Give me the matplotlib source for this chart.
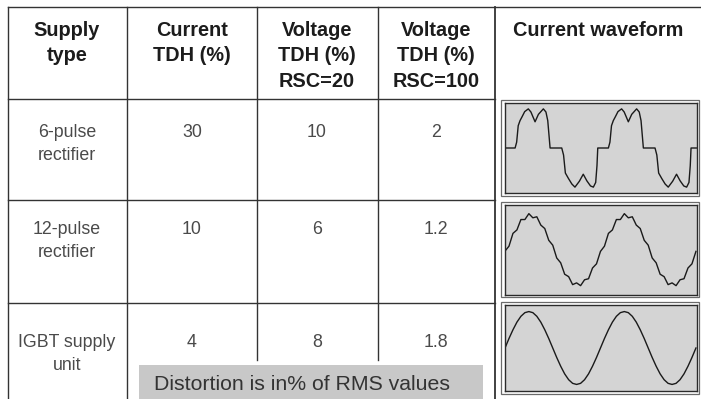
import numpy as np
import matplotlib
matplotlib.use("Agg")
import matplotlib.pyplot as plt
from matplotlib.patches import Rectangle

# ── Table content ─────────────────────────────────────────────────────────────
headers = ["Supply\ntype", "Current\nTDH (%)", "Voltage\nTDH (%)\nRSC=20",
           "Voltage\nTDH (%)\nRSC=100", "Current waveform"]
supply_types = ["6-pulse\nrectifier", "12-pulse\nrectifier", "IGBT supply\nunit"]
current_tdh = ["30", "10", "4"]
voltage_tdh_rsc20 = ["10", "6", "8"]
voltage_tdh_rsc100 = ["2", "1.2", "1.8"]
footnote = "Distortion is in% of RMS values"

# ── Waveforms (phase in degrees, normalised current) ──────────────────────────
pulse6_deg = [0, 39, 45, 51, 58, 66, 76, 90, 100, 116, 129, 148, 158, 165, 174,
              219, 226, 233, 245, 258, 270, 287, 302, 316, 330, 341, 350, 355, 358,
              399, 405, 411, 418, 426, 436, 450, 460, 476, 489, 508, 518, 525, 534,
              579, 586, 593, 605, 618, 630, 647, 662, 676, 690, 701, 710, 715, 718, 741]
pulse6_val = [0, 0, 0.15, 0.57, 0.70, 0.80, 0.93, 1.0, 0.92, 0.67, 0.86, 1.0, 0.92, 0.70, 0,
              0, -0.18, -0.64, -0.78, -0.92, -1.0, -0.85, -0.67, -0.84, -0.97, -1.0, -0.88, -0.45, 0,
              0, 0.15, 0.57, 0.70, 0.80, 0.93, 1.0, 0.92, 0.67, 0.86, 1.0, 0.92, 0.70, 0,
              0, -0.18, -0.64, -0.78, -0.92, -1.0, -0.85, -0.67, -0.84, -0.97, -1.0, -0.88, -0.45, 0, 0]

wave_deg = np.arange(0, 721, 15)
pulse12_val = [-0.03, 0.11, 0.48, 0.58, 0.88, 0.88, 1.05, 0.93, 0.96, 0.72, 0.62, 0.28,
               0.14, -0.23, -0.37, -0.70, -0.77, -1.0, -0.95, -1.03, -0.86, -0.83, -0.52, -0.40,
               -0.04, 0.11, 0.48, 0.58, 0.88, 0.88, 1.05, 0.93, 0.96, 0.72, 0.62, 0.28,
               0.14, -0.23, -0.37, -0.70, -0.77, -1.0, -0.95, -1.03, -0.86, -0.83, -0.52, -0.40,
               -0.04]
igbt_val = [0, 0.26, 0.50, 0.71, 0.87, 0.97, 1.0, 0.97, 0.87, 0.71, 0.50, 0.26,
            0, -0.26, -0.50, -0.71, -0.87, -0.97, -1.0, -0.97, -0.87, -0.71, -0.50, -0.26,
            0, 0.26, 0.50, 0.71, 0.87, 0.97, 1.0, 0.97, 0.87, 0.71, 0.50, 0.26,
            0, -0.26, -0.50, -0.71, -0.87, -0.97, -1.0, -0.97, -0.87, -0.71, -0.50, -0.26,
            0]

# ── Style ─────────────────────────────────────────────────────────────────────
W, H = 701, 399
LINE = "#333333"
HEAD_TXT = "#1c1c1c"
BODY_TXT = "#4a4a4a"
BOX_GREY = "#d4d4d4"
NOTE_GREY = "#c8c8c8"
plt.rcParams["font.family"] = ["Liberation Sans", "DejaVu Sans"]

fig = plt.figure(figsize=(W / 100, H / 100), dpi=100)
fig.patch.set_facecolor("white")
ax = fig.add_axes([0, 0, 1, 1])
ax.set_xlim(0, W)
ax.set_ylim(H, 0)
ax.axis("off")

# table grid
ax.plot([8, W], [7, 7], color=LINE, lw=1.0)
for y in (99, 200, 303):
    ax.plot([8, 495], [y, y], color=LINE, lw=1.0)
ax.plot([8, 8], [7, H], color=LINE, lw=1.0)
ax.plot([127, 127], [7, H], color=LINE, lw=1.0)
ax.plot([257, 257], [7, 360], color=LINE, lw=1.0)
ax.plot([378, 378], [7, 360], color=LINE, lw=1.0)
ax.plot([495, 495], [7, H], color=LINE, lw=1.3)

# headers
col_x = [67, 192, 317, 436, 598]
for x, txt in zip(col_x, headers):
    ax.text(x, 21, txt, ha="center", va="top", fontsize=14.3, fontweight="bold",
            color=HEAD_TXT, linespacing=1.42)

# body cells
row_top = [124, 221, 334]
for r in range(3):
    cells = [supply_types[r], current_tdh[r], voltage_tdh_rsc20[r], voltage_tdh_rsc100[r]]
    for x, txt in zip(col_x[:4], cells):
        ax.text(x, row_top[r], txt, ha="center", va="top", fontsize=12.8,
                color=BODY_TXT, linespacing=1.45)

# footnote band
ax.add_patch(Rectangle((139, 365), 344, 40, facecolor=NOTE_GREY, edgecolor="none"))
ax.text(302, 390, footnote, ha="center", va="baseline", fontsize=15.3, color="#333333")

# waveform boxes: (outer y0, outer y1, inner y0, inner y1, x data, y data, xlim, ylim)
boxes = [
    (100, 196, 103, 193, pulse6_deg, pulse6_val, 741, 1.15),
    (202, 297, 205, 295, wave_deg, pulse12_val, 724, 1.3),
    (302, 394, 305, 391, wave_deg, igbt_val, 724, 1.18),
]
for oy0, oy1, iy0, iy1, xd, yd, xmax, ymax in boxes:
    ax.add_patch(Rectangle((501, oy0), 198, oy1 - oy0, facecolor="white",
                           edgecolor="#6a6a6a", lw=0.9))
    ix0, ix1 = 505, 697
    wax = fig.add_axes([ix0 / W, 1 - iy1 / H, (ix1 - ix0) / W, (iy1 - iy0) / H])
    wax.set_facecolor(BOX_GREY)
    wax.plot(xd, yd, color="#1a1a1a", lw=1.0)
    wax.set_xlim(0, xmax)
    wax.set_ylim(-ymax, ymax)
    wax.set_xticks([])
    wax.set_yticks([])
    for s in wax.spines.values():
        s.set_color("#2a2a2a")
        s.set_linewidth(1.0)

fig.savefig("out.png", dpi=100, facecolor="white")
